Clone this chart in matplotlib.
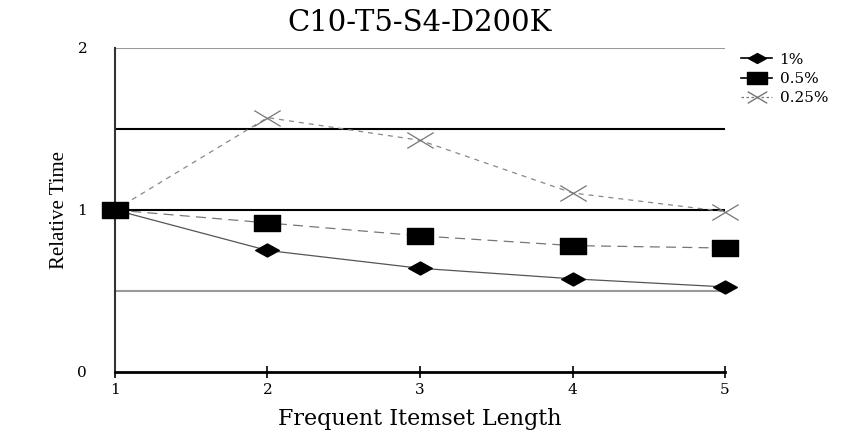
import matplotlib.pyplot as plt
from matplotlib.lines import Line2D
from matplotlib.path import Path

# data
lengths = [1, 2, 3, 4, 5]
rel_1pct = [1.0, 0.75, 0.64, 0.575, 0.525]
rel_05pct = [1.0, 0.92, 0.84, 0.78, 0.765]
rel_025pct = [1.0, 1.57, 1.43, 1.105, 0.99]
series_labels = ['1%', '0.5%', '0.25%']

WIDE = ['DejaVu Serif']
NARROW = ['Liberation Serif', 'DejaVu Serif']

# the original figure looks stretched sideways, so flatten the markers
DIAMOND = Path([(-1, 0), (0, 0.55), (1, 0), (0, -0.55), (-1, 0)],
               [Path.MOVETO, Path.LINETO, Path.LINETO, Path.LINETO, Path.CLOSEPOLY])
RECT = Path([(-1, -0.6), (1, -0.6), (1, 0.6), (-1, 0.6), (-1, -0.6)],
            [Path.MOVETO, Path.LINETO, Path.LINETO, Path.LINETO, Path.CLOSEPOLY])
CROSS = Path([(-1, -0.6), (1, 0.6), (-1, 0.6), (1, -0.6)],
             [Path.MOVETO, Path.LINETO, Path.MOVETO, Path.LINETO])

fig = plt.figure(figsize=(8.58, 4.32), dpi=100)
ax = fig.add_axes([0.134, 0.139, 0.711, 0.750])

# horizontal grid lines
ax.axhline(0.5, color='#999999', lw=1.5, zorder=1)
ax.axhline(1.0, color='black', lw=1.5, zorder=1)
ax.axhline(1.5, color='black', lw=1.5, zorder=1)
ax.axhline(2.0, color='#999999', lw=1.5, zorder=1)

ax.plot(lengths, rel_1pct, color='#555555', lw=0.9, marker=DIAMOND, ms=17,
        mfc='black', mec='black', zorder=3, clip_on=False)
ax.plot(lengths, rel_025pct, color='#888888', lw=0.9, ls=(0, (4, 4)),
        marker=CROSS, ms=19, mew=0.9, mec='#777777', zorder=3, clip_on=False)
ax.plot(lengths, rel_05pct, color='#777777', lw=0.9, ls=(0, (8, 5)),
        marker=RECT, ms=19, mfc='black', mec='black', zorder=4, clip_on=False)

ax.set_xlim(1, 5)
ax.set_ylim(0, 2)
ax.set_xticks(lengths)
ax.set_yticks([0, 1, 2])
ax.tick_params(axis='x', direction='inout', length=8, width=1.2, pad=4,
               labelsize=11)
ax.tick_params(axis='y', length=0, pad=20, labelsize=11)
for lab in ax.get_xticklabels() + ax.get_yticklabels():
    lab.set_family(WIDE)

for side in ['top', 'right']:
    ax.spines[side].set_visible(False)
ax.spines['bottom'].set_linewidth(2)
ax.spines['left'].set_linewidth(1.5)
ax.spines['left'].set_color('#333333')

ax.set_title('C10-T5-S4-D200K', family=WIDE, fontsize=21, pad=12)
ax.set_xlabel('Frequent Itemset Length', family=WIDE, fontsize=16,
              labelpad=8)
ax.set_ylabel('Relative Time', family=NARROW, fontsize=15, labelpad=6)

handles = [
    Line2D([], [], color='black', lw=1.2, marker=DIAMOND, ms=13, mfc='black'),
    Line2D([], [], color='black', lw=1.2, marker=RECT, ms=14, mfc='black'),
    Line2D([], [], color='#777777', lw=0.9, ls=(0, (2, 2)), marker=CROSS,
           ms=14, mec='#777777'),
]
fig.legend(handles, series_labels, loc='upper left',
           bbox_to_anchor=(0.848, 0.91), frameon=False,
           prop={'family': WIDE, 'size': 11}, handlelength=2.0,
           handletextpad=0.5, labelspacing=0.35)

fig.savefig('out.png', dpi=100)
